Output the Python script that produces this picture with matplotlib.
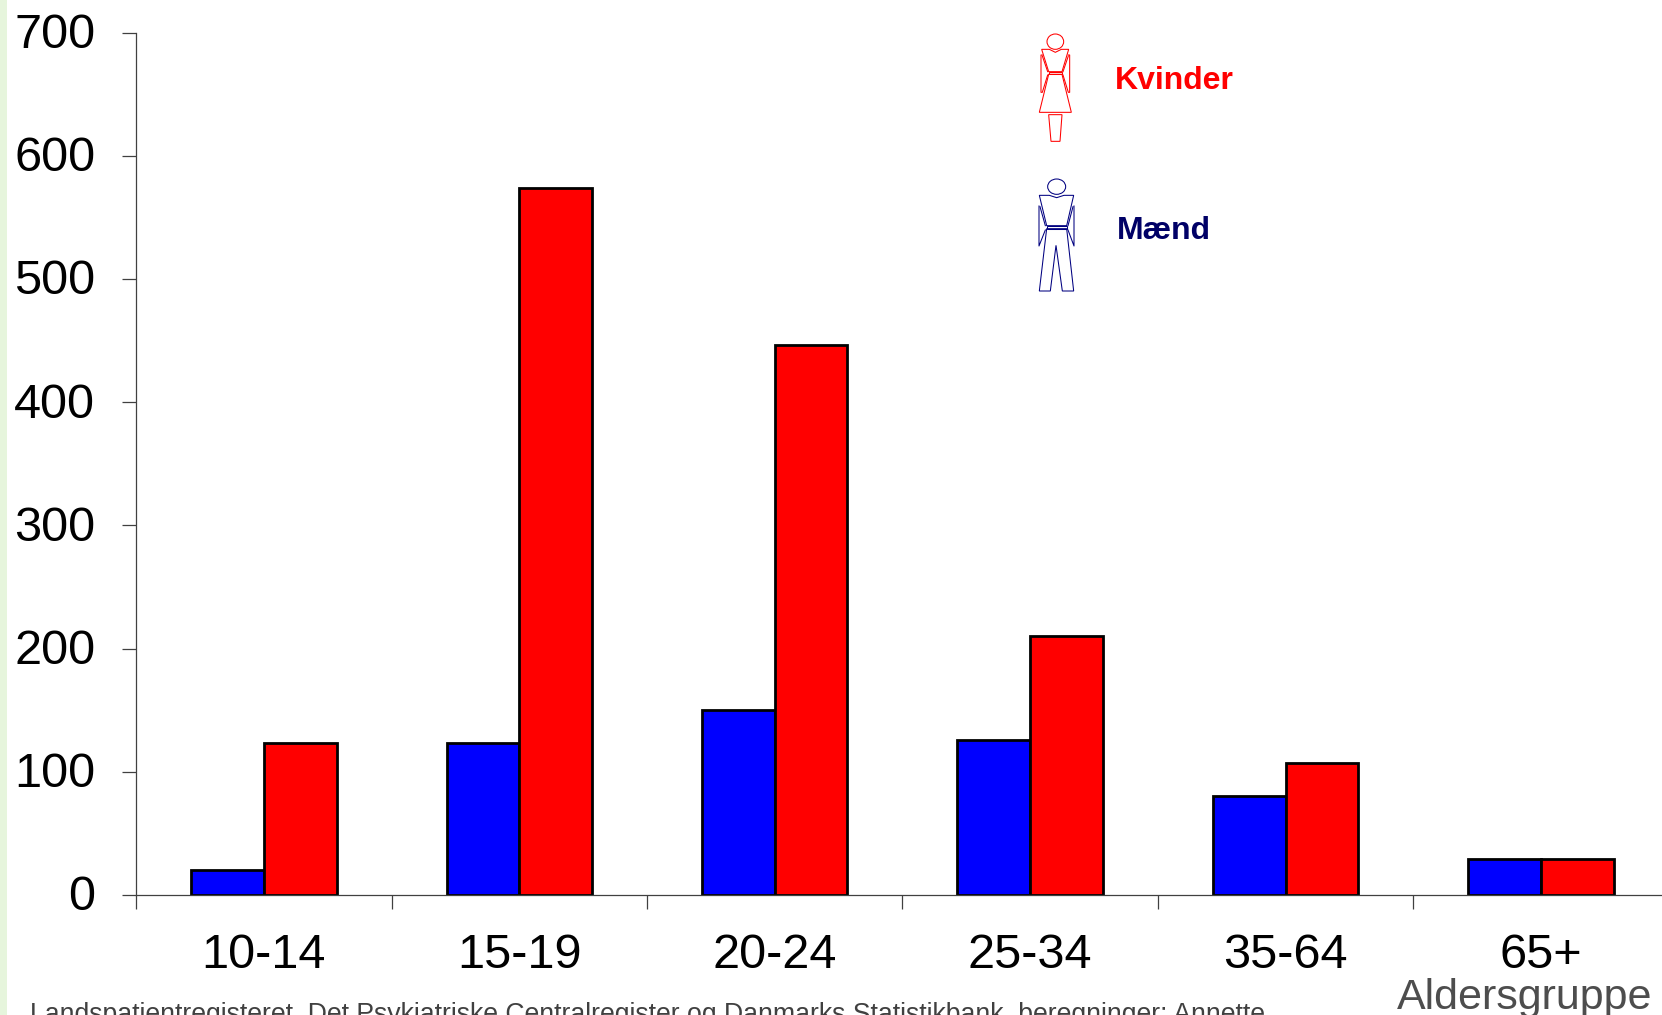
import matplotlib
matplotlib.use("Agg")
import matplotlib.pyplot as plt
import numpy as np
from matplotlib.patches import Ellipse, Polygon, Rectangle
from matplotlib.transforms import ScaledTranslation

plt.rcParams["font.family"] = ["Liberation Sans", "DejaVu Sans"]

W, H = 1662, 1015

age_groups = ["10-14", "15-19", "20-24", "25-34", "35-64", "65+"]
men = [20, 123, 150, 126, 80, 29]
women = [123, 574, 446, 210, 107, 29]
y_ticks = [0, 100, 200, 300, 400, 500, 600, 700]

fig = plt.figure(figsize=(W / 100, H / 100), dpi=100, facecolor="white")

# full-figure overlay in pixel coordinates, for the side strip and the figures
bg = fig.add_axes([0, 0, 1, 1])
bg.set_xlim(0, W)
bg.set_ylim(H, 0)
bg.axis("off")
bg.add_patch(Rectangle((0, 0), 7, H, fc="#e6f5dc", ec="none"))

ax = fig.add_axes([136.2 / W, (H - 895) / H, 1532.4 / W, 862.5 / H])
ax.patch.set_alpha(0)

x = np.arange(len(age_groups)) + 0.5
bar_w = 0.285
edge = dict(edgecolor="black", linewidth=2)
ax.bar(x - bar_w / 2, men, bar_w, color="#0000ff", **edge)
ax.bar(x + bar_w / 2, women, bar_w, color="#ff0000", **edge)

ax.set_xlim(0, 6)
ax.set_ylim(0, 700)
ax.set_yticks(y_ticks)
ax.set_xticks(np.arange(0, 7))
ax.set_xticks(x, minor=True)
ax.set_xticklabels([])
ax.set_xticklabels(age_groups, minor=True)

for s in ["top", "right"]:
    ax.spines[s].set_visible(False)
for s in ["left", "bottom"]:
    ax.spines[s].set_color("#404040")
    ax.spines[s].set_linewidth(0.9)
ax.tick_params(axis="both", which="major", length=10, width=0.9, color="#404040")
ax.tick_params(axis="y", labelsize=35, pad=19.5, labelcolor="black")
ax.tick_params(axis="x", which="minor", length=0, labelsize=35, pad=27.5, labelcolor="black")

# nudge the y labels up a little so they sit on their ticks
nudge = ScaledTranslation(0, 2 / 100, fig.dpi_scale_trans)
for lab in ax.get_yticklabels():
    lab.set_transform(lab.get_transform() + nudge)

# text placed by pixel position
bg.text(1397, 1009, "Aldersgruppe", fontsize=31, color="#4d4d4d", ha="left", va="baseline")
bg.text(30, 1022, "Landspatientregisteret, Det Psykiatriske Centralregister og Danmarks Statistikbank, beregninger: Annette",
        fontsize=19.2, color="#404040", ha="left", va="baseline", clip_on=True)
bg.text(1115, 89, "Kvinder", fontsize=23, fontweight="bold", color="#ff0000", ha="left", va="baseline")
bg.text(1117, 239, "Mænd", fontsize=23, fontweight="bold", color="#000066", ha="left", va="baseline")

LW = 0.75


def shape(pts, color):
    # outline sketched on a 3x grid starting at (1000, 20)
    p = [(1000 + a / 3, 20 + b / 3) for a, b in pts]
    bg.add_patch(Polygon(p, closed=True, fc="none", ec=color, lw=LW))


def stroke(pts, color):
    bg.plot([1000 + a / 3 for a, b in pts], [20 + b / 3 for a, b in pts], color=color, lw=LW)


# woman pictogram
c = "#ff0000"
bg.add_patch(Ellipse((1000 + 166 / 3, 20 + 65 / 3), 50 / 3, 46 / 3, fc="none", ec=c, lw=LW))
shape([(125, 88), (148, 88), (166, 97), (184, 88), (206, 88), (186, 155), (146, 155)], c)
shape([(146, 155), (186, 155), (186, 163), (146, 163)], c)
shape([(146, 163), (186, 163), (214, 277), (118, 277)], c)
shape([(146, 284), (186, 284), (180, 364), (153, 364)], c)
stroke([(127, 105), (123, 105), (123, 217), (127, 217), (143, 165)], c)
stroke([(127, 108), (143, 155)], c)
stroke([(205, 105), (209, 105), (209, 217), (205, 217), (189, 165)], c)
stroke([(205, 108), (189, 155)], c)

# man pictogram
c = "#000080"
bg.add_patch(Ellipse((1000 + 170 / 3, 20 + 500 / 3), 54 / 3, 46 / 3, fc="none", ec=c, lw=LW))
shape([(118, 526), (148, 526), (170, 533), (192, 526), (221, 526), (200, 617), (140, 617)], c)
shape([(140, 617), (200, 617), (200, 626), (140, 626)], c)
shape([(140, 626), (200, 626), (221, 813), (187, 813), (168, 676), (151, 813), (118, 813)], c)
stroke([(117, 558), (117, 678), (136, 630)], c)
stroke([(120, 560), (136, 617)], c)
stroke([(222, 558), (222, 678), (204, 630)], c)
stroke([(219, 560), (204, 617)], c)

fig.savefig("out.png", dpi=100)
plt.close(fig)
